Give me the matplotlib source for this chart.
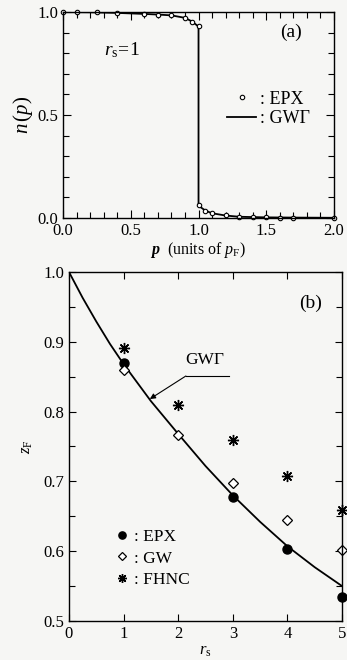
import numpy as np
import matplotlib.pyplot as plt
from matplotlib.ticker import MultipleLocator, FormatStrFormatter

plt.rcParams['font.family'] = ['Liberation Serif', 'DejaVu Serif']
plt.rcParams['mathtext.fontset'] = 'custom'
plt.rcParams['mathtext.rm'] = 'Liberation Serif'
plt.rcParams['mathtext.it'] = 'Liberation Serif:italic'
plt.rcParams['mathtext.bf'] = 'Liberation Serif:bold'
plt.rcParams['mathtext.bfit'] = 'Liberation Serif:italic:bold'

# (a) momentum distribution, r_s = 1
p_epx = [0.0, 0.1, 0.25, 0.4, 0.6, 0.7, 0.8, 0.9, 0.95, 1.0,
         1.0, 1.05, 1.1, 1.2, 1.3, 1.4, 1.5, 1.6, 1.7, 2.0]
n_epx = [1.0, 0.999, 0.998, 0.995, 0.99, 0.988, 0.985, 0.97, 0.953, 0.934,
         0.061, 0.036, 0.024, 0.013, 0.006, 0.004, 0.003, 0.002, 0.002, 0.001]
p_gwg = [0.0, 0.2, 0.4, 0.6, 0.7, 0.8, 0.9, 0.95, 1.0,
         1.0, 1.05, 1.1, 1.2, 1.3, 1.5, 1.7, 2.0]
n_gwg = [1.0, 0.999, 0.996, 0.991, 0.988, 0.984, 0.972, 0.955, 0.93,
         0.06, 0.036, 0.023, 0.012, 0.006, 0.003, 0.002, 0.001]

# (b) renormalization factor z_F vs r_s
rs_epx = [1, 3, 4, 5]
z_epx = [0.870, 0.677, 0.603, 0.535]
rs_gw = [1, 2, 3, 4, 5]
z_gw = [0.859, 0.767, 0.698, 0.645, 0.601]
rs_fhnc = [1, 2, 3, 4, 5]
z_fhnc = [0.891, 0.810, 0.759, 0.708, 0.659]
rs_line = [0.0, 0.25, 0.5, 0.75, 1.0, 1.5, 2.0, 2.5, 3.0, 3.5, 4.0, 4.5, 5.0]
z_line = [1.0, 0.963, 0.929, 0.897, 0.868, 0.815, 0.768, 0.722, 0.68,
          0.642, 0.607, 0.577, 0.55]

bg = '#f6f6f4'
fig = plt.figure(figsize=(3.47, 6.6), dpi=100, facecolor=bg)

ax1 = fig.add_axes([0.1816, 0.6697, 0.781, 0.312], facecolor=bg)
ax1.plot(p_gwg, n_gwg, color='black', lw=1.3, label=': GW\u0393')
ax1.plot(p_epx, n_epx, 'o', ms=3.2, mfc='white', mec='black', mew=0.8,
         clip_on=False, label=': EPX')
ax1.set_xlim(0, 2.0)
ax1.set_ylim(0, 1.0)
ax1.xaxis.set_major_locator(MultipleLocator(0.5))
ax1.xaxis.set_minor_locator(MultipleLocator(0.1))
ax1.yaxis.set_major_locator(MultipleLocator(0.5))
ax1.yaxis.set_minor_locator(MultipleLocator(0.1))
ax1.xaxis.set_major_formatter(FormatStrFormatter('%.1f'))
ax1.yaxis.set_major_formatter(FormatStrFormatter('%.1f'))
ax1.set_xlabel(r'$\mathbfit{p}$  (units of $p_{\rm F}$)', fontsize=11.5, labelpad=1)
ax1.set_ylabel(r'$n\,(p)$', fontsize=15, labelpad=2)
ax1.text(0.30, 0.79, r'$r_{\rm s}\!=\!1$', fontsize=14)
ax1.text(1.60, 0.88, '(a)', fontsize=14)
h, l = ax1.get_legend_handles_labels()
ax1.legend(h[::-1], l[::-1], loc='center right', bbox_to_anchor=(0.97, 0.53),
           frameon=False, fontsize=13, handlelength=1.6, handletextpad=0.2,
           labelspacing=0.15)

ax2 = fig.add_axes([0.1988, 0.0591, 0.787, 0.5288], facecolor=bg)
ax2.plot(rs_line, z_line, color='black', lw=1.3)
ax2.plot(rs_epx, z_epx, 'o', ms=6.5, color='black', clip_on=False, label=': EPX')
ax2.plot(rs_gw, z_gw, 'D', ms=4.8, mfc='white', mec='black', mew=0.9,
         clip_on=False, label=': GW')
ax2.plot(rs_fhnc, z_fhnc, marker=(8, 2, 0), ls='none', ms=8, color='black',
         clip_on=False, label=': FHNC')
ax2.set_xlim(0, 5)
ax2.set_ylim(0.5, 1.0)
ax2.xaxis.set_major_locator(MultipleLocator(1))
ax2.yaxis.set_major_locator(MultipleLocator(0.1))
ax2.yaxis.set_minor_locator(MultipleLocator(0.05))
ax2.yaxis.set_major_formatter(FormatStrFormatter('%.1f'))
ax2.set_xlabel(r'$r_{\rm s}$', fontsize=12, labelpad=1)
ax2.set_ylabel(r'$z_{\rm F}$', fontsize=12, labelpad=6)
ax2.text(4.22, 0.948, '(b)', fontsize=14)
ax2.text(2.12, 0.868, 'GW\u0393', fontsize=12.5)
ax2.plot([2.93, 2.14], [0.851, 0.851], color='black', lw=0.8)
ax2.annotate('', xy=(1.48, 0.818), xytext=(2.14, 0.851),
             arrowprops=dict(arrowstyle='-|>', color='black', lw=0.8,
                             mutation_scale=8, shrinkA=0, shrinkB=0))
ax2.legend(loc='lower left', bbox_to_anchor=(0.11, 0.05), frameon=False,
           fontsize=12.5, handlelength=0.8, handletextpad=0.3,
           labelspacing=0.3, markerscale=0.8)

for ax in (ax1, ax2):
    ax.tick_params(which='both', direction='in', top=True, right=True,
                   labelsize=12, width=0.8)
    ax.tick_params(which='major', length=6)
    ax.tick_params(which='minor', length=4)
    for s in ax.spines.values():
        s.set_linewidth(1.0)
ax2.tick_params(which='major', length=5)

fig.savefig('out.png', dpi=100, facecolor=bg)
